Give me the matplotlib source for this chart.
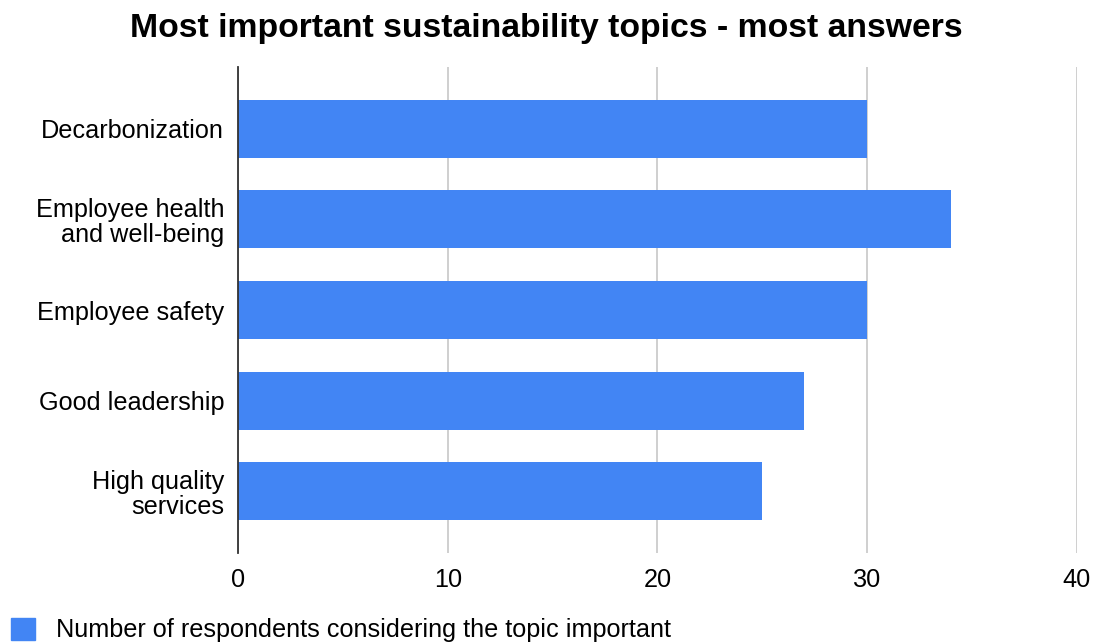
import matplotlib
matplotlib.use('Agg')
import matplotlib.pyplot as plt
from matplotlib.patches import Patch

plt.rcParams['font.family'] = ['Liberation Sans', 'DejaVu Sans']

topics = ['Decarbonization', 'Employee health\nand well-being', 'Employee safety',
          'Good leadership', 'High quality\nservices']
respondents = [30, 34, 30, 27, 25]
x_ticks = [0, 10, 20, 30, 40]
series_name = 'Number of respondents considering the topic important'

blue = '#4285f4'

fig = plt.figure(figsize=(11.02, 6.42), dpi=100)
ax = fig.add_axes([0.216, 0.1386, 0.761, 0.757])

ax.barh(range(len(topics)), respondents, height=0.64, color=blue, zorder=3)

ax.set_xlim(0, 40)
ax.set_ylim(len(topics) - 0.32, -0.68)
ax.set_yticks(range(len(topics)))
ax.set_yticklabels(topics, fontsize=18.2, linespacing=1.05)
ax.set_xticks(x_ticks)
ax.set_xticklabels([str(t) for t in x_ticks], fontsize=18.2)
ax.tick_params(axis='y', length=0, pad=10)
ax.tick_params(axis='x', length=0, pad=11)

ax.grid(axis='x', color='#cccccc', linewidth=1.3, zorder=0)
for side in ['top', 'right', 'bottom']:
    ax.spines[side].set_visible(False)
ax.spines['left'].set_color('#333333')
ax.spines['left'].set_linewidth(1.3)
ax.spines['left'].set_zorder(4)

fig.suptitle('Most important sustainability topics - most answers',
             fontsize=24.3, fontweight='bold', x=0.496, y=0.98)

fig.legend(handles=[Patch(color=blue)], labels=[series_name],
           loc='lower left', bbox_to_anchor=(-0.011, -0.036), frameon=False,
           fontsize=18.2, handlelength=0.95, handleheight=0.95, handletextpad=0.85)

fig.savefig('out.png', dpi=100, facecolor='white')
